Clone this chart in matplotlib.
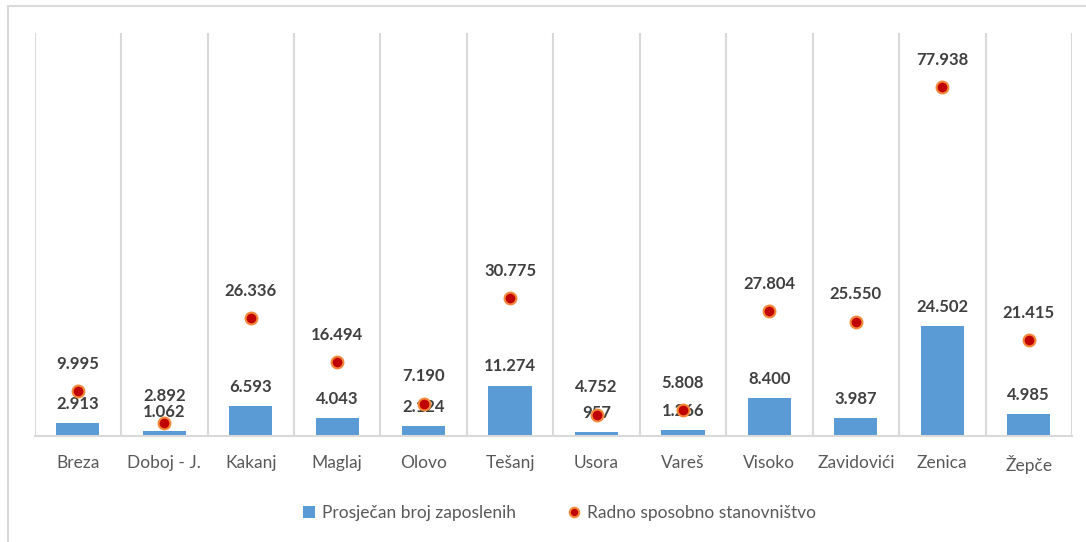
import numpy as np
import matplotlib.pyplot as plt
from matplotlib.patches import Rectangle

plt.rcParams['font.family'] = ['Lato', 'DejaVu Sans']

# Podaci
opcine = ['Breza', 'Doboj - J.', 'Kakanj', 'Maglaj', 'Olovo', 'Tešanj',
          'Usora', 'Vareš', 'Visoko', 'Zavidovići', 'Zenica', 'Žepče']
zaposleni = [2913, 1062, 6593, 4043, 2124, 11274, 957, 1266, 8400, 3987, 24502, 4985]
stanovnistvo = [9995, 2892, 26336, 16494, 7190, 30775, 4752, 5808, 27804, 25550, 77938, 21415]


def fmt(v):
    return f'{v:,}'.replace(',', '.')


fig = plt.figure(figsize=(10.86, 5.42), dpi=100)
# okvir oko grafika (odrezan desno i dolje)
fig.patches.append(Rectangle((8 / 1086, -0.1), 1.2, 1.1 - 6 / 542, transform=fig.transFigure,
                             fill=False, edgecolor='#D9D9D9', linewidth=1.5))

ax = fig.add_axes([34.6 / 1086, 106 / 542, (1072 - 34.6) / 1086, 403 / 542])
x = np.arange(len(opcine))

bars = ax.bar(x, zaposleni, width=0.5, color='#5B9BD5', label='Prosječan broj zaposlenih', zorder=2)
dots, = ax.plot(x, stanovnistvo, 'o', markersize=8.5, markerfacecolor='#C00000',
                markeredgecolor='#F5883A', markeredgewidth=1.5,
                label='Radno sposobno stanovništvo', zorder=5)

for xi, v in zip(x, zaposleni):
    ax.annotate(fmt(v), (xi, v), xytext=(0, 8), textcoords='offset points', ha='center',
                va='bottom', fontsize=12, fontweight='bold', color='#404040', zorder=4)
for xi, v in zip(x, stanovnistvo):
    ax.annotate(fmt(v), (xi, v), xytext=(0, 14), textcoords='offset points', ha='center',
                va='bottom', fontsize=12, fontweight='bold', color='#404040', zorder=4)

ax.set_xlim(-0.5, len(opcine) - 0.5)
ax.set_ylim(0, 90000)
ax.set_yticks([])
ax.set_xticks(x)
ax.set_xticklabels(opcine, fontsize=12.5, color='#595959')
ax.tick_params(axis='x', length=0, pad=14)
for xb in np.arange(-0.5, len(opcine), 1.0):
    ax.axvline(xb, color='#D9D9D9', linewidth=1.5, zorder=1)
for s in ['top', 'left', 'right']:
    ax.spines[s].set_visible(False)
ax.spines['bottom'].set_color('#D9D9D9')
ax.spines['bottom'].set_linewidth(1.5)

fig.legend([bars, dots], [bars.get_label(), dots.get_label()],
           loc='center', bbox_to_anchor=(0.515, 1 - 513 / 542), ncol=2, frameon=False,
           fontsize=12.5, labelcolor='#595959', handlelength=0.7, handletextpad=0.4,
           columnspacing=3.0, markerscale=0.8)

fig.savefig('out.png', dpi=100)
